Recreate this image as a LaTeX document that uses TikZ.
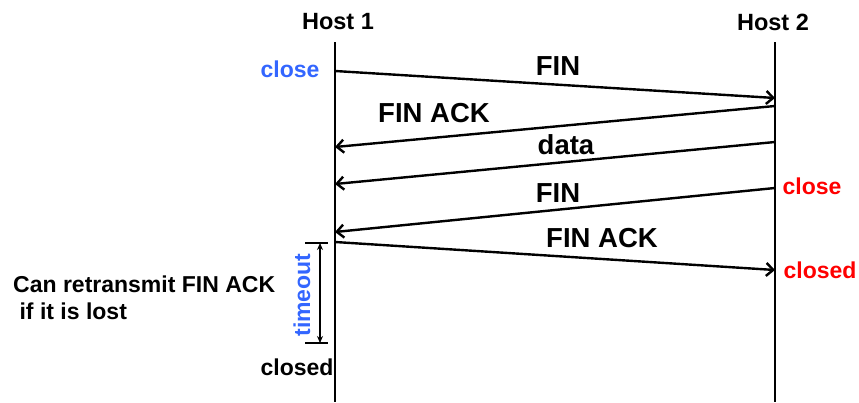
\documentclass[tikz,border=0pt]{standalone}
\usepackage{fontspec}
\setmainfont{Liberation Sans}
\usetikzlibrary{arrows.meta}
\definecolor{cblue}{RGB}{51,102,255}
\definecolor{cred}{RGB}{255,0,0}
\tikzset{
  life/.style={line width=2pt},
  msg/.style={line width=2.4pt,-{Straight Barb[length=7pt,width=13pt,line width=2.4pt]}},
  lbl/.style={font=\bfseries\fontsize{27.5}{30}\selectfont,inner sep=0pt},
  host/.style={font=\bfseries\fontsize{23.5}{26}\selectfont,inner sep=0pt},
  side/.style={font=\bfseries\fontsize{23}{26}\selectfont,inner sep=0pt},
  note/.style={font=\bfseries\fontsize{23}{27}\selectfont,inner sep=0pt},
}
\begin{document}
\begin{tikzpicture}[x=1pt,y=-1pt]
\useasboundingbox (0,0) rectangle (859,402);
\node[host] (h1) at (338,22) {Host 1};
\node[host] (h2) at (773,22) {Host 2};
\coordinate (t1) at (335,42); \coordinate (b1) at (335,402);
\coordinate (t2) at (775,42); \coordinate (b2) at (775,402);
\draw[life] (t1) -- (b1);
\draw[life] (t2) -- (b2);
% messages
\coordinate (a1) at (335,71); \coordinate (a2) at (775,98);
\coordinate (b1s) at (775,106); \coordinate (b1e) at (335,147);
\coordinate (c1) at (775,142); \coordinate (c2) at (335,184);
\coordinate (d1) at (775,188); \coordinate (d2) at (335,232);
\coordinate (e1) at (335,242); \coordinate (e2) at (775,270);
\draw[msg] (a1) -- (a2);
\draw[msg] (b1s) -- (b1e);
\draw[msg] (c1) -- (c2);
\draw[msg] (d1) -- (d2);
\draw[msg] (e1) -- (e2);
\node[lbl] (l1) at (558,66) {FIN};
\node[lbl] (l2) at (434,113) {FIN ACK};
\node[lbl] (l3) at (566,145) {data};
\node[lbl] (l4) at (558,193) {FIN};
\node[lbl] (l5) at (602,238) {FIN ACK};
% side labels
\node[side,text=cblue] (cl1) at (290,69) {close};
\node[side,text=cred] (cl2) at (812,186) {close};
\node[side,text=cred] (cd2) at (820,270) {closed};
\node[side] (cd1) at (297,367) {closed};
% timeout bracket
\coordinate (k1l) at (305,243); \coordinate (k1r) at (328,243);
\coordinate (k2l) at (305,343); \coordinate (k2r) at (328,343);
\coordinate (m1) at (320,243); \coordinate (m2) at (320,343);
\draw[line width=2pt] (k1l) -- (k1r);
\draw[line width=2pt] (k2l) -- (k2r);
\draw[line width=1.5pt,{Stealth[length=7pt,width=6pt]}-{Stealth[length=7pt,width=6pt]}] (m1) -- (m2);
\node[side,text=cblue,rotate=90] (to) at (302,295) {timeout};
\node[note,align=left,anchor=west] (nt) at (13,298) {Can retransmit FIN ACK\\\ if it is lost};
\end{tikzpicture}
\end{document}
